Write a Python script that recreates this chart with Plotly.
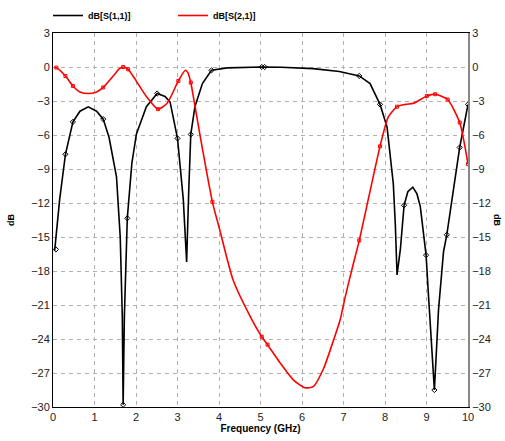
import plotly.graph_objects as go

# S11 curve (GHz, dB)
s11_f = [0.04, 0.16, 0.3, 0.48, 0.65, 0.85, 1.05, 1.21, 1.35, 1.53, 1.62, 1.67, 1.69, 1.72, 1.79, 1.9, 2.01, 2.25,
         2.51, 2.7, 2.82, 3.0, 3.14, 3.22, 3.27, 3.32, 3.42, 3.6, 3.82, 4.2, 5.03, 5.5, 6.27, 6.9, 7.38, 7.64,
         7.88, 8.05, 8.2, 8.25, 8.29, 8.37, 8.46, 8.55, 8.67, 8.77, 8.85, 8.99, 9.05, 9.13, 9.19, 9.24, 9.29,
         9.41, 9.49, 9.65, 9.8, 10.0]
s11_db = [-16.2, -11.7, -7.7, -4.84, -3.9, -3.52, -3.9, -4.6, -6.2, -9.7, -15.0, -22.0, -29.8, -22.0, -13.35, -8.5,
          -5.9, -3.5, -2.34, -2.6, -3.08, -6.3, -11.7, -17.2, -11.0, -5.95, -3.5, -1.46, -0.29, -0.08, 0.0, -0.02,
          -0.14, -0.4, -0.79, -1.46, -3.3, -5.3, -10.3, -14.0, -18.35, -16.1, -12.2, -11.0, -10.6, -11.2, -12.3,
          -16.6, -20.3, -25.0, -28.5, -25.0, -21.4, -16.3, -14.8, -10.8, -7.1, -3.3]

# S21 curve (GHz, dB)
s21_f = [0.04, 0.08, 0.3, 0.48, 0.65, 0.85, 1.05, 1.21, 1.45, 1.6, 1.69, 1.81, 2.0, 2.25, 2.53, 2.75, 3.02, 3.19,
         3.25, 3.32, 3.4, 3.6, 3.84, 4.02, 4.34, 4.75, 5.03, 5.17, 5.47, 5.79, 6.07, 6.27, 6.52, 6.76, 6.92, 7.04,
         7.2, 7.38, 7.88, 8.08, 8.29, 8.5, 8.69, 9.01, 9.21, 9.51, 9.8, 10.0]
s21_db = [-0.05, -0.05, -0.8, -1.67, -2.2, -2.34, -2.2, -1.8, -0.8, -0.15, 0.0, -0.2, -1.2, -2.6, -3.72, -3.2, -1.23,
          -0.29, -0.5, -1.37, -3.0, -7.2, -11.9, -14.4, -18.8, -22.0, -23.8, -24.5, -26.1, -27.6, -28.3, -28.2,
          -26.6, -24.1, -22.3, -20.3, -17.9, -15.3, -7.0, -4.4, -3.5, -3.3, -3.2, -2.55, -2.4, -2.87, -4.9, -8.57]

# marker points
s11_mk_f = [0.07, 0.3, 0.48, 1.21, 1.69, 1.79, 2.51, 3.0, 3.32, 3.82, 5.03, 5.1, 7.38, 7.88, 8.46, 8.99, 9.19, 9.49, 9.8, 10.0]
s11_mk_db = [-16.1, -7.7, -4.84, -4.6, -29.8, -13.35, -2.34, -6.3, -5.95, -0.29, 0.0, 0.0, -0.79, -3.3, -12.2, -16.6, -28.5, -14.8, -7.1, -3.3]
s21_mk_f = [0.08, 0.3, 0.48, 1.21, 1.69, 1.81, 2.53, 3.02, 3.32, 3.84, 5.03, 5.17, 7.38, 7.88, 8.29, 9.01, 9.21, 9.51, 9.8, 10.0]
s21_mk_db = [-0.05, -0.8, -1.67, -1.8, 0.0, -0.2, -3.72, -1.23, -1.37, -11.9, -23.8, -24.5, -15.3, -7.0, -3.5, -2.55, -2.4, -2.87, -4.9, -8.57]

x_ticks = list(range(0, 11))
y_ticks = list(range(-30, 4, 3))

fig = go.Figure()
fig.add_trace(go.Scatter(x=s11_f, y=s11_db, mode="lines", name="<b>dB[S(1,1)]</b>",
                         line=dict(color="black", width=1.6)))
fig.add_trace(go.Scatter(x=s21_f, y=s21_db, mode="lines", name="<b>dB[S(2,1)]</b>",
                         line=dict(color="red", width=1.6, shape="spline", smoothing=0.6)))
fig.add_trace(go.Scatter(x=s11_mk_f, y=s11_mk_db, mode="markers", showlegend=False,
                         marker=dict(symbol="diamond-open", size=4, color="black", line=dict(width=1))))
fig.add_trace(go.Scatter(x=s21_mk_f, y=s21_mk_db, mode="markers", showlegend=False, yaxis="y2",
                         marker=dict(symbol="square-open", size=3, color="red", line=dict(width=1))))

font = "Liberation Sans, Arial, sans-serif"
grid = "#b0b0b0"
fig.update_layout(
    width=505, height=441,
    margin=dict(l=53, r=37, t=33, b=34, autoexpand=False),
    paper_bgcolor="white", plot_bgcolor="white",
    font=dict(family=font, size=10, color="#222"),
    legend=dict(orientation="h", x=-0.012, y=1 - 1 / 441, xanchor="left", yanchor="top",
                yref="container", xref="paper", entrywidth=80, entrywidthmode="pixels",
                font=dict(size=9, color="black"), bgcolor="rgba(0,0,0,0)", traceorder="normal"),
    xaxis=dict(range=[0, 10], tickvals=x_ticks, showgrid=True, gridcolor=grid, griddash="4px,4px",
               gridwidth=1, zeroline=False, showline=True, linecolor="black", linewidth=1, mirror=True,
               ticks="", automargin=False,
               title=dict(text="<b>Frequency (GHz)</b>", font=dict(size=10, color="black"), standoff=2),
               tickfont=dict(size=11, color="#222")),
    yaxis=dict(range=[-30, 3], tickvals=y_ticks, showgrid=True, gridcolor=grid, griddash="4px,4px",
               gridwidth=1, zeroline=False, showline=True, linecolor="black", linewidth=1, ticks="",
               automargin=False,
               title=dict(text="<b>dB</b>", font=dict(size=9, color="black"), standoff=14),
               tickfont=dict(size=11, color="#222")),
    yaxis2=dict(range=[-30, 3], tickvals=y_ticks, overlaying="y", side="right", showgrid=False,
                zeroline=False, showline=True, linecolor="#888", linewidth=2, ticks="",
                automargin=False, tickfont=dict(size=11, color="#222")),
    annotations=[dict(text="<b>dB</b>", x=1.0 + (497 - 468) / 415, y=0.5, xref="paper",
                      yref="paper", showarrow=False, textangle=90,
                      font=dict(size=9, color="black"), xanchor="center", yanchor="middle")],
)
fig.write_html("out.html", config={"displayModeBar": False},
               post_script="document.body.style.margin='0';")
